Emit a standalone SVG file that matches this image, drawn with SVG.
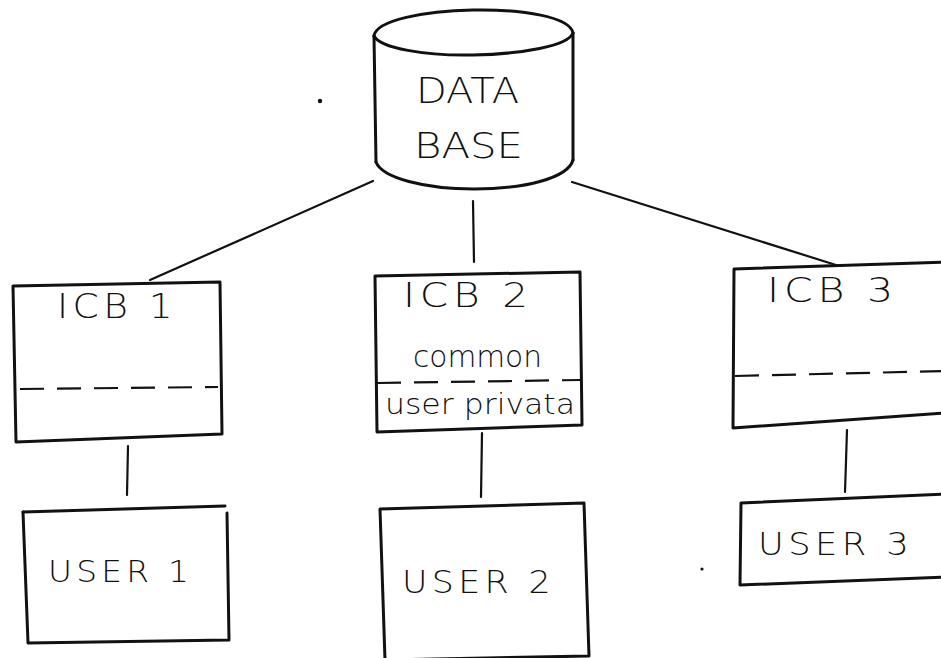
<svg xmlns="http://www.w3.org/2000/svg" width="941" height="658" viewBox="0 0 941 658">
  <defs>
    <style>
      .ink { fill: none; stroke: #111; stroke-width: 3; stroke-linecap: round; stroke-linejoin: round; }
      .wire { fill: none; stroke: #111; stroke-width: 2.2; stroke-linecap: round; }
      .dash { fill: none; stroke: #111; stroke-width: 2.2; stroke-dasharray: 24 13; }
      .lbl { font-family: "DejaVu Sans", "Liberation Sans", sans-serif; fill: #111; font-weight: 300; letter-spacing: 4px; }
      .hand { font-family: "DejaVu Sans", "Liberation Sans", sans-serif; fill: #111; font-weight: 300; }
    </style>
  </defs>
  <rect width="941" height="658" fill="#fff"/>

  <!-- connectors -->
  <g id="connectors">
    <path class="wire" d="M373,181 L150,280"/>
    <path class="wire" d="M473,201 L474,262"/>
    <path class="wire" d="M572,182 L836,265"/>
    <path class="wire" d="M128,446 L127,495"/>
    <path class="wire" d="M482,433 L481,497"/>
    <path class="wire" d="M847,430 L845,492"/>
  </g>

  <!-- database cylinder -->
  <g id="database">
    <path class="ink" d="M374,36 C376,20 425,11 473,10 C523,9 570,17 573,33"/>
    <path class="ink" d="M374,36 C380,48 425,56 473,55 C522,54 568,46 573,33"/>
    <path class="ink" d="M374,36 L376,162"/>
    <path class="ink" d="M573,33 L573,160"/>
    <path class="ink" d="M376,162 C382,178 425,189 474,189 C525,189 568,178 573,160"/>
    <text class="hand" x="416" y="103" font-size="36" textLength="103" lengthAdjust="spacingAndGlyphs">DATA</text>
    <text class="hand" x="414" y="158" font-size="36" textLength="109" lengthAdjust="spacingAndGlyphs">BASE</text>
  </g>

  <!-- ICB 1 -->
  <g id="icb1">
    <path class="ink" d="M13,286 L220,282 L222,434 L16,442 Z"/>
    <path class="dash" d="M20,389 L218,387"/>
    <text class="lbl" x="57" y="318" font-size="34" textLength="120" lengthAdjust="spacingAndGlyphs">ICB 1</text>
  </g>

  <!-- ICB 2 -->
  <g id="icb2">
    <path class="ink" d="M375,276 L580,272 L582,425 L377,432 Z"/>
    <path class="dash" d="M377,383 L580,380"/>
    <text class="lbl" x="403" y="307" font-size="34" textLength="130" lengthAdjust="spacingAndGlyphs">ICB 2</text>
    <text class="hand" x="413" y="367" font-size="30" textLength="129" lengthAdjust="spacingAndGlyphs">common</text>
    <text class="hand" x="385" y="414" font-size="28" textLength="190" lengthAdjust="spacingAndGlyphs">user privata</text>
  </g>

  <!-- ICB 3 -->
  <g id="icb3">
    <path class="ink" d="M945,262 L734,269 L733,428 L945,413"/>
    <path class="dash" d="M735,376 L945,371"/>
    <text class="lbl" x="767" y="302" font-size="34" textLength="131" lengthAdjust="spacingAndGlyphs">ICB 3</text>
  </g>

  <!-- USER 1 -->
  <g id="user1">
    <path class="ink" d="M23,512 L225,506"/>
    <path class="ink" d="M227,513 L229,640 L28,643 L23,512"/>
    <text class="lbl" x="48" y="582" font-size="31" textLength="145" lengthAdjust="spacingAndGlyphs">USER 1</text>
  </g>

  <!-- USER 2 -->
  <g id="user2">
    <path class="ink" d="M380,509 L584,503 L589,656 L385,660 Z"/>
    <text class="lbl" x="402" y="593" font-size="32" textLength="153" lengthAdjust="spacingAndGlyphs">USER 2</text>
  </g>

  <!-- USER 3 -->
  <g id="user3">
    <path class="ink" d="M945,494 L741,503 L740,585 L945,577"/>
    <text class="lbl" x="758" y="555" font-size="32" textLength="155" lengthAdjust="spacingAndGlyphs">USER 3</text>
  </g>

  <!-- specks -->
  <circle cx="320" cy="101" r="2.2" fill="#111"/>
  <circle cx="702" cy="569" r="1.6" fill="#111"/>
</svg>
